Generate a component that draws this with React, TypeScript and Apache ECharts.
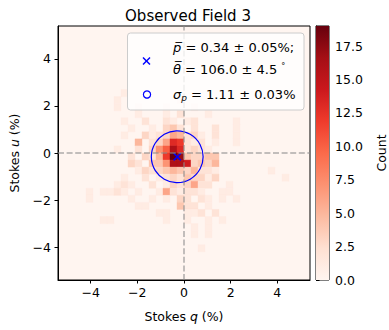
import React, { useEffect, useRef } from "react";
import * as echarts from "echarts";

// ---- data ----
const BIN = 0.3; // histogram bin width (%)
const AXIS_MIN = -5.4;
const AXIS_MAX = 5.4;
const qTicks = [-4, -2, 0, 2, 4];
const uTicks = [-4, -2, 0, 2, 4];
const countTicks = [0, 2.5, 5, 7.5, 10, 12.5, 15, 17.5];
const COUNT_MAX = 19;
const REDS = ["#fff5f0", "#fee0d2", "#fcbba1", "#fc9272", "#fb6a4a", "#ef3b2c", "#cb181d", "#a50f15", "#67000d"];
const meanQ = -0.29;
const meanU = -0.16;
const sigmaP = 1.11;
const titleText = "Observed Field 3";
const legendP = " = 0.34 ± 0.05%;";
const legendTheta = " = 106.0 ± 4.5 ";
const legendSigma = " = 1.11 ± 0.03%";

// histogram rows: u bin centre, then [q bin centre, count]
const rowsTop: [number, [number, number][]][] = [
  [2.55, [[-2.55, 1]]],
  [2.25, [[-2.85, 1], [-0.15, 1]]],
  [1.95, [[-2.85, 1], [-1.95, 1], [-0.75, 1], [0.45, 1]]],
  [1.65, [[-1.95, 1], [-0.75, 1], [-0.15, 2], [1.05, 1]]],
  [1.35, [[-2.55, 1], [-1.65, 2], [-0.75, 2], [-0.45, 1], [0.15, 1], [0.45, 2], [2.25, 1]]],
  [1.05, [[-2.25, 1], [-1.35, 1], [-0.75, 3], [-0.45, 4], [-0.15, 2], [0.45, 2], [1.35, 2], [2.25, 1]]],
  [0.75, [[-2.55, 1], [-1.65, 3], [-1.35, 1], [-1.05, 2], [-0.75, 3], [-0.45, 6], [-0.15, 5], [0.15, 2], [0.45, 3], [0.75, 1], [1.35, 2], [2.25, 1]]],
  [0.45, [[-1.95, 5], [-1.35, 2], [-1.05, 3], [-0.75, 6], [-0.45, 13], [-0.15, 12], [0.15, 2], [0.45, 1], [0.75, 2], [1.35, 1], [2.25, 1]]],
  [0.15, [[-2.85, 1], [-1.95, 2], [-1.35, 3], [-1.05, 7], [-0.75, 10], [-0.45, 16], [-0.15, 13], [0.15, 2], [0.45, 3], [0.75, 2], [1.05, 1]]],
];
const rowsBottom: [number, [number, number][]][] = [
  [-0.15, [[-2.25, 2], [-1.65, 3], [-1.35, 2], [-1.05, 5], [-0.75, 12], [-0.45, 19], [-0.15, 17], [0.15, 4], [0.45, 3], [0.75, 3], [1.05, 4], [1.35, 4]]],
  [-0.45, [[-2.25, 3], [-1.95, 2], [-1.35, 4], [-1.05, 4], [-0.75, 7], [-0.45, 16], [-0.15, 16], [0.15, 14], [0.45, 3], [0.75, 4], [1.05, 3], [1.35, 5]]],
  [-0.75, [[-1.95, 1], [-1.65, 3], [-1.35, 2], [-1.05, 3], [-0.75, 4], [-0.45, 5], [-0.15, 4], [0.15, 3], [0.45, 5], [0.75, 2], [1.05, 2], [1.35, 1], [3.75, 1]]],
  [-1.05, [[-2.55, 1], [-1.65, 2], [-1.05, 1], [-0.75, 2], [-0.45, 3], [-0.15, 2], [0.15, 4], [0.45, 3], [0.75, 3], [1.05, 1], [1.35, 3], [4.35, 1]]],
  [-1.35, [[-2.85, 1], [-2.55, 2], [-2.25, 1], [-1.35, 2], [-0.75, 1], [-0.45, 3], [-0.15, 2], [0.15, 3], [0.45, 6], [0.75, 2], [1.05, 2], [1.95, 1]]],
  [-1.65, [[-4.05, 1], [-3.45, 1], [-3.15, 1], [-2.85, 2], [-2.55, 1], [-1.95, 1], [-1.05, 1], [-0.75, 6], [-0.45, 2], [-0.15, 1], [0.15, 2], [0.45, 2], [0.75, 1], [1.65, 1], [1.95, 1]]],
  [-1.95, [[-4.05, 1], [-2.25, 1], [-1.35, 1], [-0.75, 1], [-0.15, 3], [0.15, 2], [0.75, 2], [1.05, 1], [1.65, 1], [2.25, 1]]],
  [-2.25, [[-1.95, 1], [-1.65, 1], [-0.15, 4], [0.15, 2], [0.45, 2], [1.05, 1]]],
  [-2.55, [[-1.05, 1], [-0.75, 1], [0.15, 1], [0.45, 1], [0.75, 2], [1.35, 2]]],
  [-2.85, [[-3.45, 1], [-3.15, 1], [-0.75, 1], [0.15, 1], [1.05, 1], [1.65, 1]]],
  [-3.15, [[0.45, 1], [1.05, 1]]],
  [-3.45, [[0.45, 1], [1.05, 1]]],
  [-4.05, [[0.75, 1]]],
];

const cells: [number, number, number][] = [];
[...rowsTop, ...rowsBottom].forEach(([u, row]) => {
  row.forEach(([q, c]) => cells.push([q, u, c]));
});

const FONT = "DejaVu Sans";
const LEG_FS = 13;
const fmtSigned = (v: number) => (v < 0 ? "\u2212" : "") + Math.abs(v);

export default function App() {
  const ref = useRef<HTMLDivElement>(null);
  useEffect(() => {
    if (!ref.current) return;
    const chart = echarts.init(ref.current, undefined, { renderer: "svg" });
    const axisCommon = {
      type: "value" as const,
      min: AXIS_MIN,
      max: AXIS_MAX,
      splitLine: { show: false },
      axisLine: { show: true, onZero: false, lineStyle: { color: "#000", width: 1 } },
      axisTick: { show: true, length: 3.5, lineStyle: { color: "#000" } },
      nameLocation: "middle" as const,
      nameTextStyle: {
        fontFamily: FONT, fontSize: 12.5, color: "#000",
        rich: { i: { fontFamily: FONT, fontSize: 12.5, fontStyle: "italic", color: "#000" } },
      },
    };
    const gradStops = REDS.map((c, i) => ({ offset: i / (REDS.length - 1), color: c }));
    chart.setOption({
      animation: false,
      title: {
        text: titleText, left: 183, top: 3, textAlign: "center",
        textStyle: { fontFamily: FONT, fontSize: 15, fontWeight: "normal", color: "#000" },
      },
      grid: [
        { left: 56, top: 26, width: 254, height: 254, show: true, backgroundColor: REDS[0], borderColor: "#000", borderWidth: 1 },
        { left: 316, top: 26, width: 14, height: 254, show: true, borderColor: "#000", borderWidth: 1 },
      ],
      xAxis: [
        {
          ...axisCommon, gridIndex: 0, name: "Stokes {i|q} (%)", nameGap: 30,
          axisTick: { ...axisCommon.axisTick, customValues: qTicks },
          axisLabel: { customValues: qTicks, formatter: fmtSigned, fontFamily: FONT, fontSize: 12.5, color: "#000", margin: 6 },
        },
        { type: "value", gridIndex: 1, min: 0, max: 1, show: false },
      ],
      yAxis: [
        {
          ...axisCommon, gridIndex: 0, name: "Stokes {i|u} (%)", nameGap: 37,
          axisTick: { ...axisCommon.axisTick, customValues: uTicks },
          axisLabel: { customValues: uTicks, formatter: fmtSigned, fontFamily: FONT, fontSize: 12.5, color: "#000", margin: 7 },
        },
        {
          type: "value", gridIndex: 1, position: "right", min: 0, max: COUNT_MAX,
          splitLine: { show: false },
          axisLine: { show: true, lineStyle: { color: "#000" } },
          axisTick: { show: true, length: 3.5, customValues: countTicks, lineStyle: { color: "#000" } },
          axisLabel: { customValues: countTicks, formatter: (v: number) => v.toFixed(1), fontFamily: FONT, fontSize: 12.5, color: "#000", margin: 6 },
          name: "Count", nameLocation: "middle", nameRotate: 90, nameGap: 46,
          nameTextStyle: { fontFamily: FONT, fontSize: 12.5, color: "#000" },
        },
      ],
      visualMap: {
        type: "continuous", show: false, min: 0, max: COUNT_MAX, dimension: 2, seriesIndex: 0,
        inRange: { color: REDS },
      },
      series: [
        {
          type: "custom", xAxisIndex: 0, yAxisIndex: 0, data: cells, z: 1,
          renderItem: (params: any, api: any) => {
            const q = api.value(0), u = api.value(1);
            const p0 = api.coord([q - BIN / 2, u + BIN / 2]);
            const p1 = api.coord([q + BIN / 2, u - BIN / 2]);
            const col = api.visual("color");
            return {
              type: "rect",
              shape: { x: p0[0], y: p0[1], width: p1[0] - p0[0], height: p1[1] - p0[1] },
              style: { fill: col, stroke: col, lineWidth: 0.4 },
            };
          },
          markLine: {
            silent: true, symbol: ["none", "none"], label: { show: false },
            lineStyle: { color: "#8c8c8c", type: [6, 2.6], width: 1.5, opacity: 0.7 },
            data: [{ xAxis: 0 }, { yAxis: 0 }],
          },
        },
        {
          type: "custom", xAxisIndex: 0, yAxisIndex: 0, data: [[meanQ, meanU, sigmaP]], z: 3,
          renderItem: (params: any, api: any) => {
            const c = api.coord([api.value(0), api.value(1)]);
            const r = api.size([api.value(2), 0])[0];
            const s = 3.6;
            const ls = { stroke: "#0000ff", lineWidth: 1.5 };
            return {
              type: "group",
              children: [
                { type: "circle", shape: { cx: c[0], cy: c[1], r }, style: { fill: "none", stroke: "#0000ff", lineWidth: 1.2 } },
                { type: "line", shape: { x1: c[0] - s, y1: c[1] - s, x2: c[0] + s, y2: c[1] + s }, style: ls },
                { type: "line", shape: { x1: c[0] - s, y1: c[1] + s, x2: c[0] + s, y2: c[1] - s }, style: ls },
              ],
            };
          },
        },
        {
          type: "custom", xAxisIndex: 1, yAxisIndex: 1, data: [[0]],
          renderItem: (params: any, api: any) => {
            const p0 = api.coord([0, COUNT_MAX]);
            const p1 = api.coord([1, 0]);
            return {
              type: "rect",
              shape: { x: p0[0], y: p0[1], width: p1[0] - p0[0], height: p1[1] - p0[1] },
              style: { fill: { type: "linear", x: 0, y: 1, x2: 0, y2: 0, colorStops: gradStops } },
            };
          },
        },
      ],
      graphic: [
        {
          type: "rect", z: 100, shape: { x: 127.5, y: 33, width: 176.5, height: 77, r: 3 },
          style: { fill: "rgba(255,255,255,0.8)", stroke: "#cccccc", lineWidth: 1 },
        },
        { type: "line", z: 101, shape: { x1: 143, y1: 57.5, x2: 150, y2: 64.5 }, style: { stroke: "#0000ff", lineWidth: 1.5 } },
        { type: "line", z: 101, shape: { x1: 143, y1: 64.5, x2: 150, y2: 57.5 }, style: { stroke: "#0000ff", lineWidth: 1.5 } },
        { type: "circle", z: 101, shape: { cx: 147, cy: 94.5, r: 3.6 }, style: { fill: "none", stroke: "#0000ff", lineWidth: 1.2 } },
        {
          type: "text", z: 101, x: 173, y: 47.5,
          style: {
            text: "{i|p\u0305}" + legendP, verticalAlign: "middle", fontFamily: FONT, fontSize: LEG_FS, fill: "#000",
            rich: { i: { fontFamily: FONT, fontSize: LEG_FS, fontStyle: "italic" } },
          },
        },
        {
          type: "text", z: 101, x: 173, y: 69,
          style: {
            text: "{i|\u03b8\u0305}" + legendTheta + "{deg|\u00b0}", verticalAlign: "middle", fontFamily: FONT, fontSize: LEG_FS, fill: "#000",
            rich: {
              i: { fontFamily: FONT, fontSize: LEG_FS, fontStyle: "italic" },
              deg: { fontFamily: FONT, fontSize: 8, padding: [0, 0, 6, 0] },
            },
          },
        },
        {
          type: "text", z: 101, x: 173, y: 94.5,
          style: {
            text: "{i|\u03c3}{sub|p}" + legendSigma, verticalAlign: "middle", fontFamily: FONT, fontSize: LEG_FS, fill: "#000",
            rich: {
              i: { fontFamily: FONT, fontSize: LEG_FS, fontStyle: "italic" },
              sub: { fontFamily: FONT, fontSize: 9, fontStyle: "italic", padding: [6, 0, 0, 0] },
            },
          },
        },
      ],
    });
    return () => chart.dispose();
  }, []);
  return <div ref={ref} style={{ position: "absolute", left: 0, top: 0, width: 389, height: 330 }} />;
}
